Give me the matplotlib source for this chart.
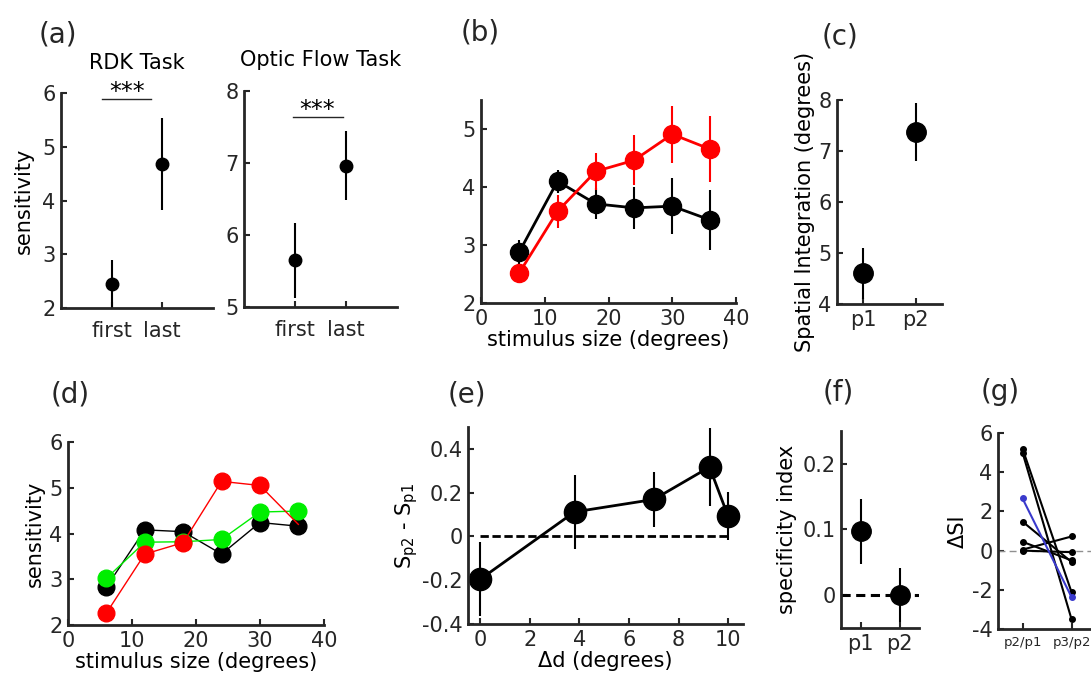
import matplotlib
matplotlib.use('Agg')
import matplotlib.pyplot as plt

# (a) RDK / optic flow, first vs last session
session_labels = ['first', 'last']
rdk_mean = [2.45, 4.68]
rdk_err = [0.45, 0.86]
flow_mean = [5.65, 6.96]
flow_err = [0.52, 0.48]

# (b) sensitivity vs stimulus size
sizes = [6, 12, 18, 24, 30, 36]
b_black = [2.88, 4.10, 3.71, 3.64, 3.67, 3.43]
b_black_err = [0.21, 0.20, 0.27, 0.36, 0.48, 0.52]
b_red = [2.52, 3.58, 4.27, 4.46, 4.91, 4.65]
b_red_err = [0.12, 0.28, 0.32, 0.43, 0.49, 0.57]

# (c) spatial integration
phase_labels = ['p1', 'p2']
c_mean = [4.6, 7.38]
c_err = [0.5, 0.57]

# (d) three conditions
d_black = [2.83, 4.08, 4.04, 3.55, 4.24, 4.16]
d_green = [3.02, 3.81, 3.82, 3.87, 4.47, 4.49]
d_red = [2.26, 3.55, 3.80, 5.14, 5.05, 4.20]

# (e) S_p2 - S_p1 vs delta d
e_x = [0, 3.8, 7, 9.25, 10]
e_y = [-0.195, 0.112, 0.169, 0.317, 0.092]
e_err = [0.17, 0.17, 0.125, 0.18, 0.11]

# (f) specificity index
f_mean = [0.097, 0.0]
f_err = [0.049, 0.041]

# (g) delta SI per subject
g_labels = ['p2/p1', 'p3/p2']
g_p2p1 = [5.2, 5.0, 1.48, 0.45, 0.05, 0.0]
g_p3p2 = [-2.12, -3.5, -0.58, -0.5, 0.72, -0.08]
g_blue = [2.66, -2.37]

dark = '#262626'
plt.rcParams['font.family'] = 'DejaVu Sans'
plt.rcParams['font.size'] = 15
plt.rcParams['axes.unicode_minus'] = False


def style(ax):
    for s in ['top', 'right']:
        ax.spines[s].set_visible(False)
    for s in ['left', 'bottom']:
        ax.spines[s].set_linewidth(2)
        ax.spines[s].set_color(dark)
    ax.tick_params(direction='in', length=4, width=1.5, labelsize=15,
                   colors=dark, pad=4)


fig = plt.figure(figsize=(10.91, 6.77), dpi=100)

# ---- (a) left
ax = fig.add_axes([0.0559, 0.545, 0.1393, 0.3176])
ax.errorbar([1, 2], rdk_mean, yerr=rdk_err, fmt='o', color='k', ms=9,
            elinewidth=1.5, capsize=0)
ax.set_xlim(0, 3)
ax.set_ylim(2, 6)
ax.set_xticks([1, 2], session_labels)
ax.set_yticks([2, 3, 4, 5, 6])
ax.set_ylabel('sensitivity', labelpad=6)
ax.set_title('RDK Task', fontsize=15, pad=17)
ax.plot([0.8, 1.78], [5.88, 5.88], color=dark, lw=1, clip_on=False)
ax.text(1.3, 5.88, '***', ha='center', va='baseline', fontsize=17, clip_on=False)
style(ax)
ax.tick_params(axis='x', pad=9)

# ---- (a) right
ax = fig.add_axes([0.2237, 0.5465, 0.1402, 0.319])
ax.errorbar([1, 2], flow_mean, yerr=flow_err, fmt='o', color='k', ms=9,
            elinewidth=1.5, capsize=0)
ax.set_xlim(0, 3)
ax.set_ylim(5, 8)
ax.set_xticks([1, 2], session_labels)
ax.set_yticks([5, 6, 7, 8])
ax.set_title('Optic Flow Task', fontsize=15, pad=18)
ax.plot([0.96, 1.94], [7.64, 7.64], color=dark, lw=1)
ax.text(1.43, 7.64, '***', ha='center', va='baseline', fontsize=17)
style(ax)
ax.tick_params(axis='x', pad=9)

# ---- (b)
ax = fig.add_axes([0.4409, 0.5524, 0.2337, 0.2999])
ax.errorbar(sizes, b_black, yerr=b_black_err, fmt='-o', color='k', ms=13,
            lw=2, elinewidth=1.5, capsize=0)
ax.errorbar(sizes, b_red, yerr=b_red_err, fmt='-o', color='#ff0000', ms=13,
            lw=2, elinewidth=1.5, capsize=0)
ax.set_xlim(0, 40)
ax.set_ylim(2, 5.5)
ax.set_xticks([0, 10, 20, 30, 40])
ax.set_yticks([2, 3, 4, 5])
ax.set_xlabel('stimulus size (degrees)', labelpad=1)
style(ax)

# ---- (c)
ax = fig.add_axes([0.7672, 0.551, 0.0962, 0.3013])
ax.errorbar([1, 2], c_mean, yerr=c_err, fmt='o', color='k', ms=14,
            elinewidth=1.5, capsize=0)
ax.set_xlim(0.5, 2.5)
ax.set_ylim(4, 8)
ax.set_xticks([1, 2], phase_labels)
ax.set_yticks([4, 5, 6, 7, 8])
ax.set_ylabel('Spatial Integration (degrees)', labelpad=2)
style(ax)

# ---- (d)
ax = fig.add_axes([0.0623, 0.0768, 0.2346, 0.2703])
ax.plot(sizes, d_red, '-o', color='#ff0000', ms=12, lw=1, markevery=[0, 1, 2, 3, 4], zorder=3)
ax.plot(sizes, d_black, '-o', color='k', ms=12, lw=1, zorder=2)
ax.plot(sizes, d_green, '-o', color='#00ee00', ms=12, lw=1, zorder=2.5)
ax.set_xlim(0, 40)
ax.set_ylim(2, 6)
ax.set_xticks([0, 10, 20, 30, 40])
ax.set_yticks([2, 3, 4, 5, 6])
ax.set_xlabel('stimulus size (degrees)', labelpad=1)
ax.set_ylabel('sensitivity', labelpad=3)
style(ax)

# ---- (e)
ax = fig.add_axes([0.429, 0.0783, 0.252, 0.291])
ax.plot([0, 10], [0, 0], color='k', lw=2, linestyle=(0, (3, 1.3)))
ax.errorbar(e_x, e_y, yerr=e_err, fmt='-o', color='k', ms=16, lw=2,
            elinewidth=1.5, capsize=0)
ax.set_xlim(-0.5, 10.6)
ax.set_ylim(-0.4, 0.5)
ax.set_xticks([0, 2, 4, 6, 8, 10])
ax.set_yticks([-0.4, -0.2, 0, 0.2, 0.4], ['-0.4', '-0.2', '0', '0.2', '0.4'])
ax.set_xlabel('\u0394d (degrees)', labelpad=1)
ax.set_ylabel('S$_\\mathregular{p2}$ - S$_\\mathregular{p1}$', labelpad=1)
style(ax)

# ---- (f)
ax = fig.add_axes([0.7709, 0.0724, 0.0715, 0.291])
ax.plot([0.5, 2.5], [0, 0], color='k', lw=2.2, linestyle=(0, (3, 1.8)))
ax.errorbar([1, 2], f_mean, yerr=f_err, fmt='o', color='k', ms=14,
            elinewidth=1.5, capsize=0)
ax.set_xlim(0.5, 2.5)
ax.set_ylim(-0.05, 0.25)
ax.set_xticks([1, 2], phase_labels)
ax.set_yticks([0, 0.1, 0.2], ['0', '0.1', '0.2'])
ax.set_ylabel('specificity index', labelpad=4)
style(ax)

# ---- (g)
ax = fig.add_axes([0.9148, 0.0709, 0.0898, 0.2895])
ax.axhline(0, color='#909090', lw=1, linestyle=(0, (5, 3)))
for a, b in zip(g_p2p1, g_p3p2):
    ax.plot([1, 2], [a, b], '-o', color='k', ms=4, lw=1.5)
ax.plot([1, 2], g_blue, '-o', color='#3a3acc', ms=4, lw=1.5)
ax.set_xlim(0.5, 2.5)
ax.set_ylim(-4, 6)
ax.set_xticks([1, 2], g_labels)
ax.set_yticks([-4, -2, 0, 2, 4, 6])
ax.set_ylabel('\u0394SI', labelpad=3)
style(ax)
ax.tick_params(axis='x', labelsize=9.5, pad=5)

# panel letters
W, H = 1091, 677
for lab, px, py in [('(a)', 58, 35), ('(b)', 480, 33), ('(c)', 840, 37),
                    ('(d)', 70, 395), ('(e)', 467, 395), ('(f)', 838, 392),
                    ('(g)', 1000, 392)]:
    fig.text(px / W, 1 - py / H, lab, fontsize=20, ha='center', va='center', color=dark)

fig.savefig('out.png', dpi=100)
